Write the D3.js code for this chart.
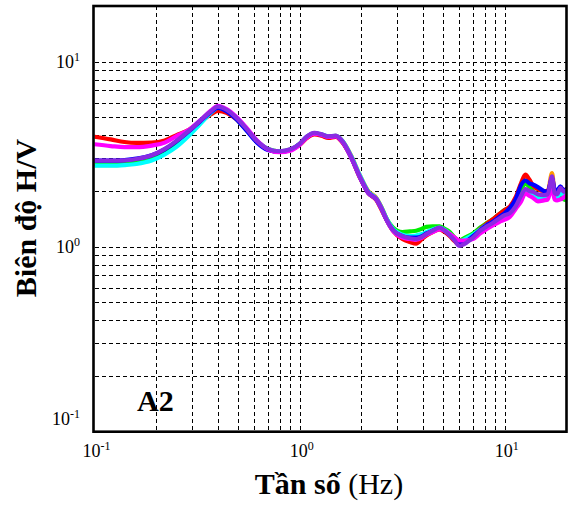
<!DOCTYPE html>
<html>
<head>
<meta charset="utf-8">
<script src="https://cdn.jsdelivr.net/npm/d3@7"></script>
<style>
  html, body { margin: 0; padding: 0; background: #fff; }
  svg { display: block; }
  text { font-family: "Liberation Serif", "Times New Roman", serif; fill: #000; }
</style>
</head>
<body>
<svg id="chart" width="572" height="506"></svg>
<script>
// H/V spectral ratio curves, station A2
const freq = [0.1, 0.12, 0.14, 0.16, 0.19, 0.22, 0.25, 0.29, 0.33, 0.37,
  0.40, 0.44, 0.49, 0.55, 0.62, 0.70, 0.80, 0.90, 1.0, 1.08,
  1.18, 1.28, 1.38, 1.5, 1.62, 1.78, 1.96, 2.16, 2.37, 2.51,
  2.65, 2.85, 3.17, 3.45, 3.7, 3.95, 4.15, 4.45, 4.8, 5.1,
  5.4, 5.7, 6.0, 6.4, 7.0, 7.6, 8.1, 8.7, 9.4, 10.0,
  10.6, 11.3, 12.0, 12.6, 13.2, 13.7, 14.5, 15.5, 16.2, 17.0,
  17.5, 18.0, 18.7, 19.4, 20];

const hvOrange = [2.76, 2.76, 2.78, 2.83, 2.96, 3.2, 3.5, 4.05, 4.7, 5.32,
  5.6, 5.45, 4.98, 4.33, 3.73, 3.38, 3.28, 3.35, 3.6, 3.9,
  4.08, 4.03, 3.94, 3.97, 3.72, 3.12, 2.45, 2.0, 1.83, 1.63,
  1.42, 1.24, 1.15, 1.12, 1.12, 1.15, 1.19, 1.24, 1.28, 1.24,
  1.18, 1.1, 1.05, 1.07, 1.15, 1.25, 1.33, 1.4, 1.48, 1.55,
  1.62, 1.8, 2.15, 2.35, 2.2, 2.12, 2.05, 2.0, 2.0, 2.5,
  2.0, 1.95, 2.1, 2.0, 2.05];

const hvGreen = [2.8, 2.8, 2.82, 2.87, 3.0, 3.25, 3.55, 4.1, 4.75, 5.35,
  5.6, 5.42, 4.92, 4.28, 3.7, 3.36, 3.27, 3.34, 3.58, 3.9,
  4.08, 4.02, 3.92, 3.96, 3.7, 3.08, 2.42, 1.97, 1.81, 1.62,
  1.42, 1.27, 1.2, 1.21, 1.22, 1.25, 1.28, 1.29, 1.29, 1.25,
  1.2, 1.12, 1.08, 1.12, 1.18, 1.27, 1.33, 1.4, 1.5, 1.58,
  1.62, 1.75, 2.0, 2.2, 2.1, 2.0, 1.9, 1.85, 1.9, 2.2,
  1.85, 1.82, 1.85, 1.8, 1.78];

const hvRed = [3.93, 3.8, 3.68, 3.64, 3.65, 3.75, 4.0, 4.3, 4.75, 5.2,
  5.42, 5.3, 4.9, 4.3, 3.7, 3.36, 3.26, 3.33, 3.55, 3.85,
  4.05, 3.98, 3.87, 3.92, 3.65, 3.05, 2.38, 1.95, 1.78, 1.58,
  1.4, 1.22, 1.1, 1.06, 1.04, 1.1, 1.15, 1.2, 1.24, 1.2,
  1.14, 1.07, 1.03, 1.05, 1.15, 1.25, 1.32, 1.4, 1.5, 1.58,
  1.65, 1.85, 2.2, 2.45, 2.3, 2.15, 2.05, 2.0, 2.0, 2.3,
  2.0, 1.95, 2.1, 2.0, 2.05];

const hvCyan = [2.74, 2.74, 2.76, 2.8, 2.92, 3.15, 3.45, 4.0, 4.65, 5.3,
  5.65, 5.45, 4.95, 4.3, 3.72, 3.38, 3.28, 3.35, 3.6, 3.92,
  4.1, 4.05, 3.95, 3.97, 3.72, 3.1, 2.45, 1.98, 1.82, 1.62,
  1.42, 1.25, 1.16, 1.14, 1.15, 1.17, 1.2, 1.24, 1.27, 1.23,
  1.17, 1.1, 1.06, 1.1, 1.16, 1.24, 1.3, 1.35, 1.42, 1.46,
  1.5, 1.62, 1.8, 2.0, 1.95, 1.9, 1.82, 1.85, 1.88, 2.2,
  1.9, 1.85, 1.95, 1.9, 1.95];

const hvBlue = [2.92, 2.92, 2.94, 2.99, 3.12, 3.36, 3.7, 4.22, 4.8, 5.35,
  5.62, 5.4, 4.9, 4.25, 3.65, 3.33, 3.25, 3.33, 3.58, 3.9,
  4.1, 4.03, 3.93, 3.96, 3.68, 3.05, 2.4, 1.96, 1.8, 1.6,
  1.4, 1.23, 1.14, 1.12, 1.12, 1.14, 1.18, 1.22, 1.26, 1.22,
  1.16, 1.1, 1.04, 1.06, 1.14, 1.23, 1.3, 1.36, 1.45, 1.52,
  1.62, 1.8, 2.15, 2.28, 2.2, 2.17, 2.1, 2.0, 1.98, 2.35,
  2.05, 2.02, 2.12, 2.0, 2.05];

const hvMagenta = [3.58, 3.5, 3.45, 3.45, 3.52, 3.65, 3.95, 4.3, 4.85, 5.45,
  5.78, 5.55, 5.05, 4.4, 3.75, 3.36, 3.24, 3.3, 3.55, 3.88,
  4.08, 4.02, 3.92, 3.95, 3.68, 3.05, 2.4, 1.95, 1.8, 1.6,
  1.4, 1.22, 1.12, 1.1, 1.09, 1.12, 1.16, 1.2, 1.24, 1.22,
  1.17, 1.12, 1.08, 1.08, 1.1, 1.18, 1.24, 1.3, 1.36, 1.4,
  1.45, 1.6, 1.75, 1.94, 1.88, 1.84, 1.76, 1.78, 1.8, 2.1,
  1.8, 1.78, 1.8, 1.85, 1.9];

const hvPurple = [2.92, 2.92, 2.93, 2.98, 3.12, 3.38, 3.72, 4.25, 4.85, 5.4,
  5.72, 5.5, 5.0, 4.35, 3.72, 3.38, 3.28, 3.36, 3.6, 3.93,
  4.13, 4.05, 3.95, 3.98, 3.7, 3.07, 2.4, 1.95, 1.8, 1.6,
  1.4, 1.23, 1.14, 1.11, 1.1, 1.13, 1.17, 1.22, 1.27, 1.22,
  1.15, 1.08, 1.01, 1.04, 1.12, 1.22, 1.28, 1.34, 1.42, 1.48,
  1.52, 1.65, 1.88, 2.05, 2.0, 1.98, 1.92, 1.9, 1.92, 2.4,
  1.95, 1.92, 2.08, 1.98, 2.02];

const seriesNames = ["orange", "green", "red", "cyan", "blue", "magenta", "purple"];
const seriesValues = [hvOrange, hvGreen, hvRed, hvCyan, hvBlue, hvMagenta, hvPurple];
const seriesColors = ["#ff9900", "#00ee00", "#ff0000", "#00ffff", "#0000ff", "#ff00ff", "#8a2be2"];

const xDomain = [0.1, 20];
const yDomain = [0.1, 20];
const xLabelTicks = [0.1, 1, 10];
const yLabelTicks = [0.1, 1, 10];

const svg = d3.select("#chart");
const plotLeft = 94.5, plotRight = 566.5, plotTop = 6, plotBottom = 431.7;

const x = d3.scaleLog().domain(xDomain).range([plotLeft, plotRight]);
const y = d3.scaleLog().domain(yDomain).range([plotBottom, plotTop]);

svg.append("defs").append("clipPath").attr("id", "plotClip")
  .append("rect").attr("x", plotLeft).attr("y", plotTop)
  .attr("width", plotRight - plotLeft).attr("height", plotBottom - plotTop);

// dashed log grid
const grid = svg.append("g").attr("stroke", "#000").attr("stroke-width", 1)
  .attr("stroke-dasharray", "4,3").attr("shape-rendering", "crispEdges");
x.ticks().filter(t => t > xDomain[0] && t < xDomain[1]).forEach(t => {
  const px = Math.round(x(t)) + 0.5;
  grid.append("line").attr("x1", px).attr("x2", px).attr("y1", plotTop).attr("y2", plotBottom);
});
y.ticks().filter(t => t > yDomain[0] && t < yDomain[1]).forEach(t => {
  const py = Math.round(y(t)) + 0.5;
  grid.append("line").attr("x1", plotLeft).attr("x2", plotRight).attr("y1", py).attr("y2", py);
});

// curves
const line = d3.line()
  .x((d, i) => x(freq[i]))
  .y(d => y(d))
  .curve(d3.curveMonotoneX);

const curves = svg.append("g").attr("clip-path", "url(#plotClip)");
seriesValues.forEach((vals, k) => {
  curves.append("path")
    .datum(vals)
    .attr("class", "hv-" + seriesNames[k])
    .attr("fill", "none")
    .attr("stroke", seriesColors[k])
    .attr("stroke-width", 4.2)
    .attr("stroke-linejoin", "round")
    .attr("stroke-linecap", "round")
    .attr("d", line);
});

// frame
svg.append("rect")
  .attr("x", plotLeft - 1).attr("y", plotTop)
  .attr("width", plotRight - plotLeft + 1).attr("height", plotBottom - plotTop)
  .attr("fill", "none").attr("stroke", "#000").attr("stroke-width", 2.6);

// tick labels as powers of ten
function powerLabel(g, value, px, py, anchor) {
  const e = Math.round(Math.log10(value));
  const t = g.append("text").attr("x", px).attr("y", py)
    .attr("text-anchor", anchor).attr("font-size", 18);
  t.append("tspan").text("10");
  t.append("tspan").attr("font-size", 12).attr("dy", -7).text(String(e));
}
const labels = svg.append("g");
xLabelTicks.forEach(v => powerLabel(labels, v, x(v) + 2, 457, "middle"));
yLabelTicks.forEach(v => {
  const py = v === yDomain[0] ? y(v) - 7 : y(v) + 6.5;
  powerLabel(labels, v, 80, py, "end");
});

// axis titles
svg.append("text")
  .attr("transform", "translate(36,218) rotate(-90)")
  .attr("text-anchor", "middle")
  .attr("font-size", 30).attr("font-weight", "bold")
  .text("Biên độ H/V");

const xt = svg.append("text")
  .attr("x", 329).attr("y", 494)
  .attr("text-anchor", "middle")
  .attr("font-size", 30);
xt.append("tspan").attr("font-weight", "bold").text("Tần số");
xt.append("tspan").text(" (Hz)");

svg.append("text")
  .attr("x", 137).attr("y", 411)
  .attr("font-size", 30).attr("font-weight", "bold")
  .text("A2");
</script>
</body>
</html>
